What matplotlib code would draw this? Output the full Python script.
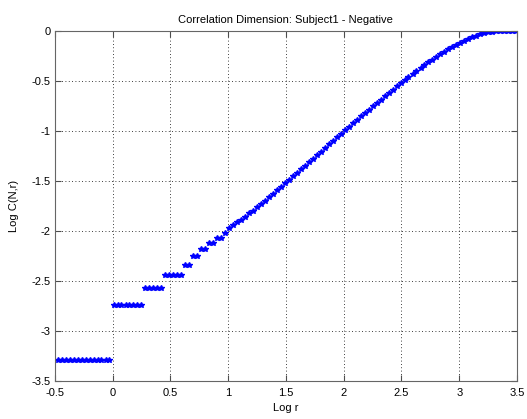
import numpy as np
import matplotlib as mpl
mpl.use("Agg")
import matplotlib.pyplot as plt
from matplotlib.ticker import FuncFormatter

# Data (log r vs log C(N,r))
log_r = [
    -0.475, -0.441, -0.406, -0.372, -0.337, -0.303, -0.268, -0.234, -0.199, -0.165,
    -0.130, -0.096, -0.061, -0.027, 0.008, 0.043, 0.077, 0.112, 0.146, 0.181,
    0.215, 0.250, 0.284, 0.319, 0.353, 0.388, 0.422, 0.457, 0.491, 0.526,
    0.560, 0.595, 0.629, 0.664, 0.698, 0.733, 0.767, 0.802, 0.836, 0.871,
    0.905, 0.940, 0.974, 1.009, 1.043, 1.078, 1.112, 1.147, 1.181, 1.216,
    1.250, 1.285, 1.319, 1.354, 1.388, 1.423, 1.457, 1.492, 1.526, 1.561,
    1.595, 1.630, 1.664, 1.699, 1.733, 1.768, 1.802, 1.837, 1.871, 1.906,
    1.940, 1.975, 2.009, 2.044, 2.078, 2.113, 2.147, 2.182, 2.216, 2.251,
    2.285, 2.320, 2.354, 2.389, 2.423, 2.458, 2.492, 2.527, 2.561, 2.596,
    2.630, 2.665, 2.699, 2.734, 2.768, 2.803, 2.837, 2.872, 2.906, 2.941,
    2.975, 3.010, 3.044, 3.079, 3.113, 3.148, 3.182, 3.217, 3.251, 3.286,
    3.320, 3.355, 3.389, 3.424, 3.458, 3.493,
]
log_c = [
    -3.29, -3.29, -3.29, -3.29, -3.29, -3.29, -3.29, -3.29, -3.29, -3.29,
    -3.29, -3.29, -3.29, -3.29, -2.74, -2.74, -2.74, -2.74, -2.74, -2.74,
    -2.74, -2.74, -2.573, -2.573, -2.573, -2.573, -2.573, -2.437, -2.437, -2.437,
    -2.437, -2.437, -2.336, -2.336, -2.254, -2.254, -2.178, -2.178, -2.12, -2.12,
    -2.07, -2.07, -2.02, -1.97, -1.945, -1.91, -1.89, -1.86, -1.825, -1.80,
    -1.76, -1.73, -1.70, -1.66, -1.63, -1.595, -1.56, -1.52, -1.49, -1.455,
    -1.42, -1.385, -1.35, -1.315, -1.28, -1.245, -1.21, -1.175, -1.135, -1.10,
    -1.065, -1.03, -0.99, -0.96, -0.925, -0.89, -0.855, -0.82, -0.79, -0.755,
    -0.72, -0.69, -0.655, -0.62, -0.59, -0.555, -0.525, -0.495, -0.465, -0.435,
    -0.405, -0.375, -0.345, -0.315, -0.29, -0.26, -0.235, -0.21, -0.185, -0.16,
    -0.14, -0.12, -0.10, -0.08, -0.063, -0.047, -0.033, -0.022, -0.012, -0.006,
    -0.002, 0.0, 0.0, 0.0, 0.0, 0.0,
]
x_ticks = [-0.5, 0, 0.5, 1, 1.5, 2, 2.5, 3, 3.5]
y_ticks = [-3.5, -3, -2.5, -2, -1.5, -1, -0.5, 0]

plt.rcParams['font.family'] = ['Liberation Sans', 'DejaVu Sans']
plt.rcParams['font.size'] = 8

fig = plt.figure(figsize=(5.27, 4.19), dpi=100)
ax = fig.add_axes([0.104, 0.091, 0.877, 0.835])

ax.plot(log_r, log_c, linestyle='none', marker='*', markersize=4,
        markeredgewidth=1.0, color=(0, 0, 1))

ax.set_xlim(-0.5, 3.5)
ax.set_ylim(-3.5, 0)
ax.set_xticks(x_ticks)
ax.set_yticks(y_ticks)
fmt = FuncFormatter(lambda v, p: "%g" % v)
ax.xaxis.set_major_formatter(fmt)
ax.yaxis.set_major_formatter(fmt)

ax.grid(True, color='black', linestyle=(0, (1, 3)), linewidth=0.6)
ax.tick_params(direction='in', top=True, right=True, length=4,
               color='0.3', labelsize=8)
ax.tick_params(axis='x', pad=5)
ax.tick_params(axis='y', pad=3)
for s in ax.spines.values():
    s.set_color('0.4')
    s.set_linewidth(0.8)

ax.set_title("Correlation Dimension: Subject1 - Negative", fontsize=8, pad=6)
ax.set_xlabel("Log r", fontsize=8, labelpad=4)
ax.set_ylabel("Log C(N,r)", fontsize=8, labelpad=9)

fig.savefig("out.png", dpi=100, facecolor='white')
